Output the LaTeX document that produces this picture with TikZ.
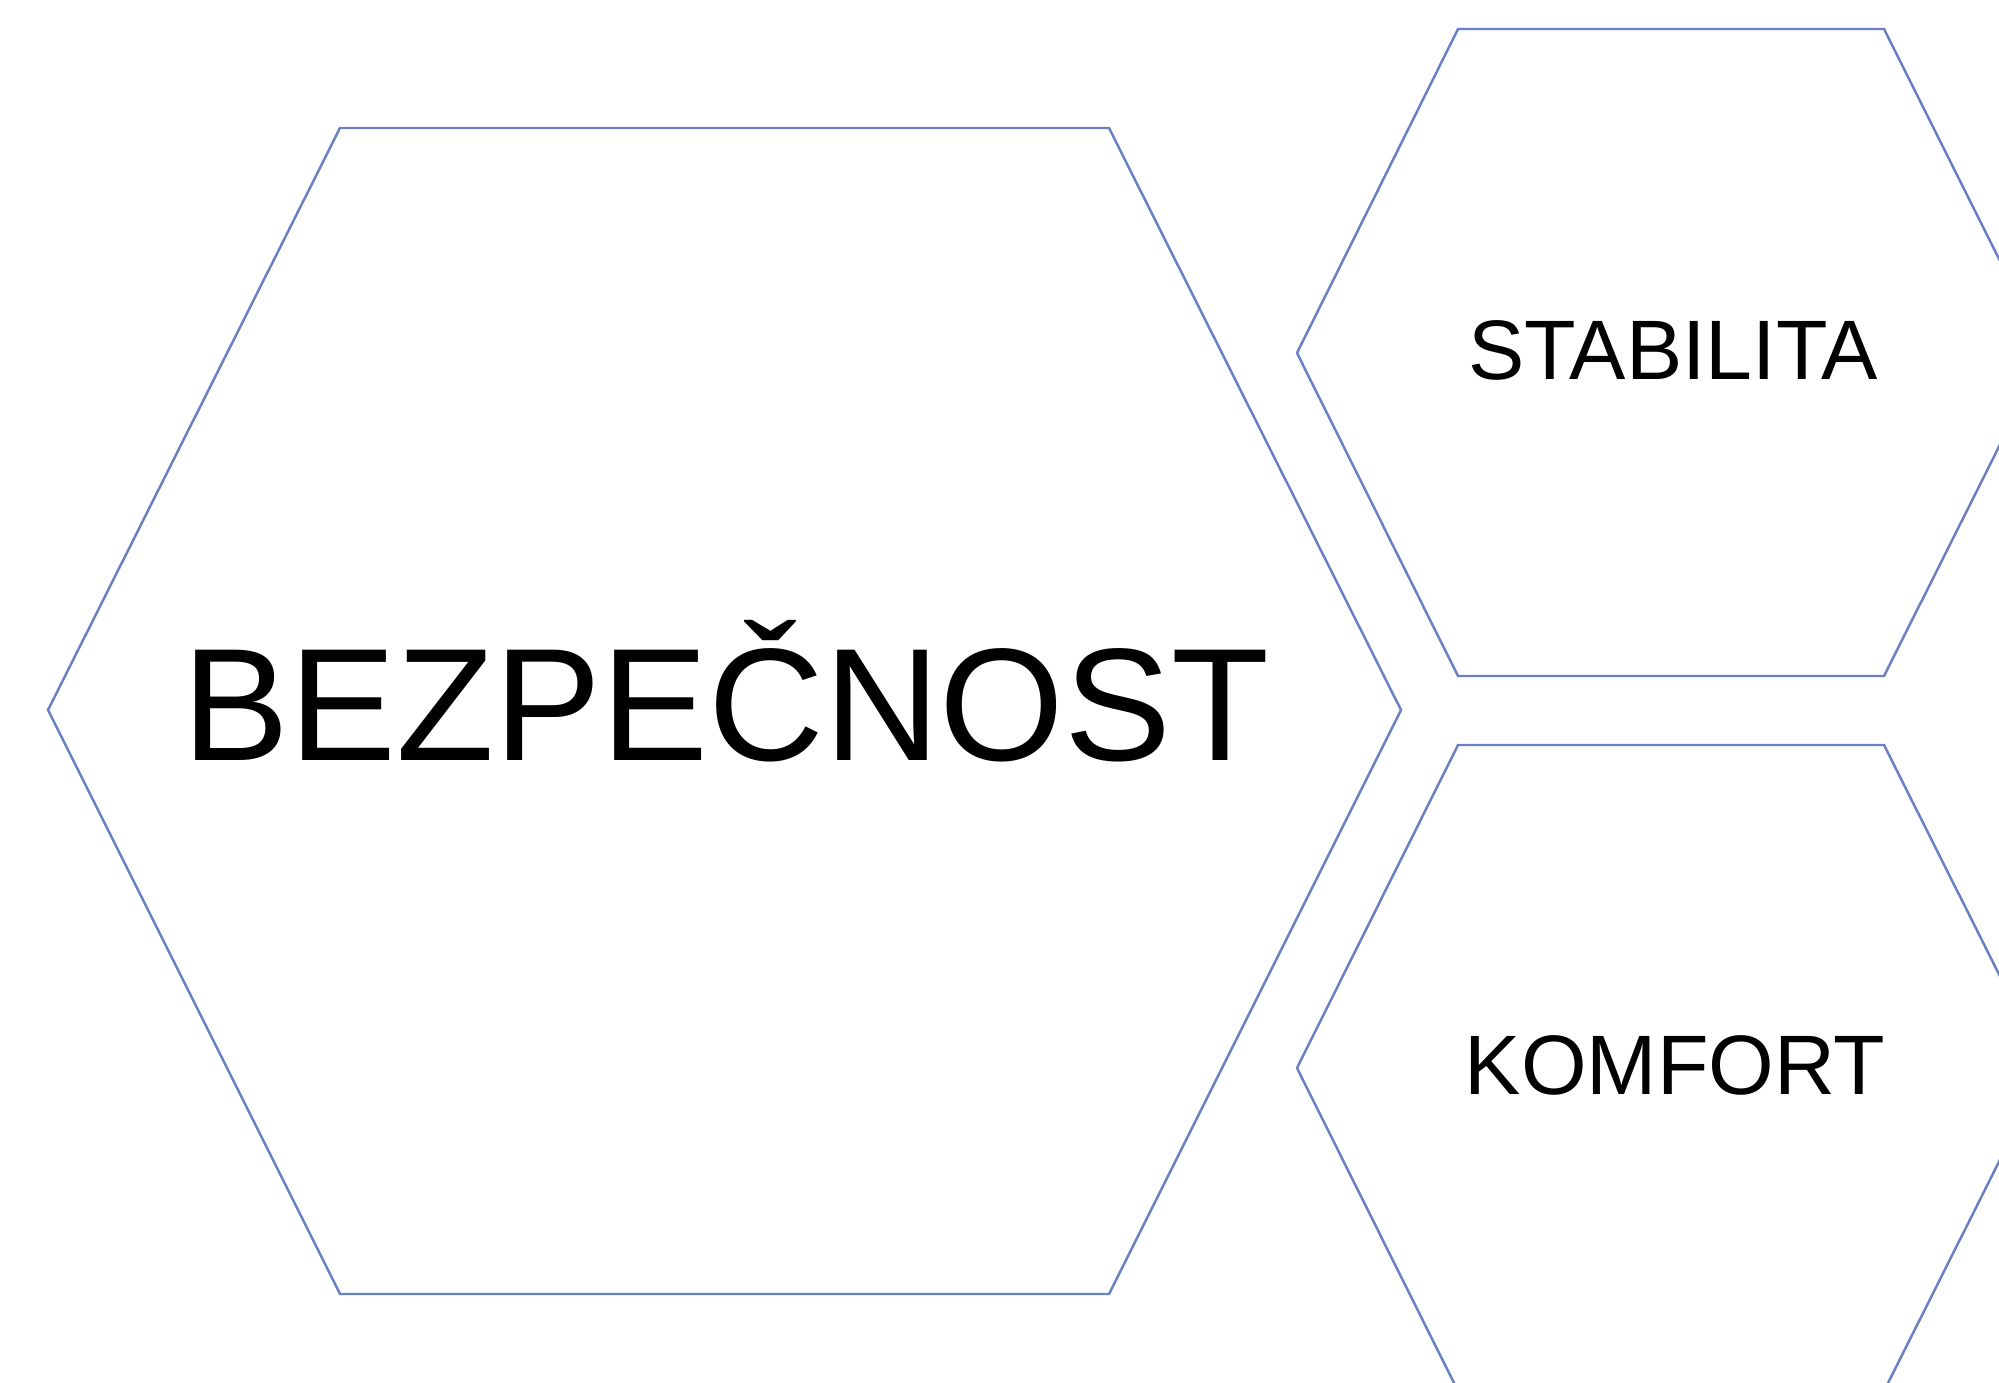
\documentclass[tikz,border=0pt]{standalone}
\usepackage{fontspec}
\setmainfont{Liberation Sans}
\definecolor{hexblue}{RGB}{106,128,196}
\begin{document}
\begin{tikzpicture}[x=0.01cm, y=-0.01cm,
    hexline/.style={draw=hexblue, line width=0.7pt, line join=miter},
    biglabel/.style={anchor=base, inner sep=0pt, font=\fontsize{45.6}{50}\selectfont},
    smalllabel/.style={anchor=base, inner sep=0pt, font=\fontsize{24}{28}\selectfont}]
      \useasboundingbox (0,0) rectangle (1999,1383);
      \clip (0,0) rectangle (1999,1383);

      % Big hexagon (left)
      \draw[hexline] (48,710) -- (340,128) -- (1109,128) -- (1401,710)
        -- (1109,1294) -- (340,1294) -- cycle;
      \node[biglabel] (bezpecnost) at (726,761) {BEZPEČNOST};

      % Upper hexagon (cut by the right edge)
      \draw[hexline] (1297,353) -- (1458,29) -- (1884,29) -- (2046,353)
        -- (1884,676) -- (1458,676) -- cycle;
      \node[smalllabel] (stabilita) at (1673,380) {STABILITA};

      % Lower hexagon (cut by the right and bottom edges)
      \draw[hexline] (1297,1068) -- (1458,745) -- (1884,745) -- (2046,1068)
        -- (1884,1391) -- (1458,1391) -- cycle;
      \node[smalllabel] (komfort) at (1675,1095) {KOMFORT};
\end{tikzpicture}
\end{document}
